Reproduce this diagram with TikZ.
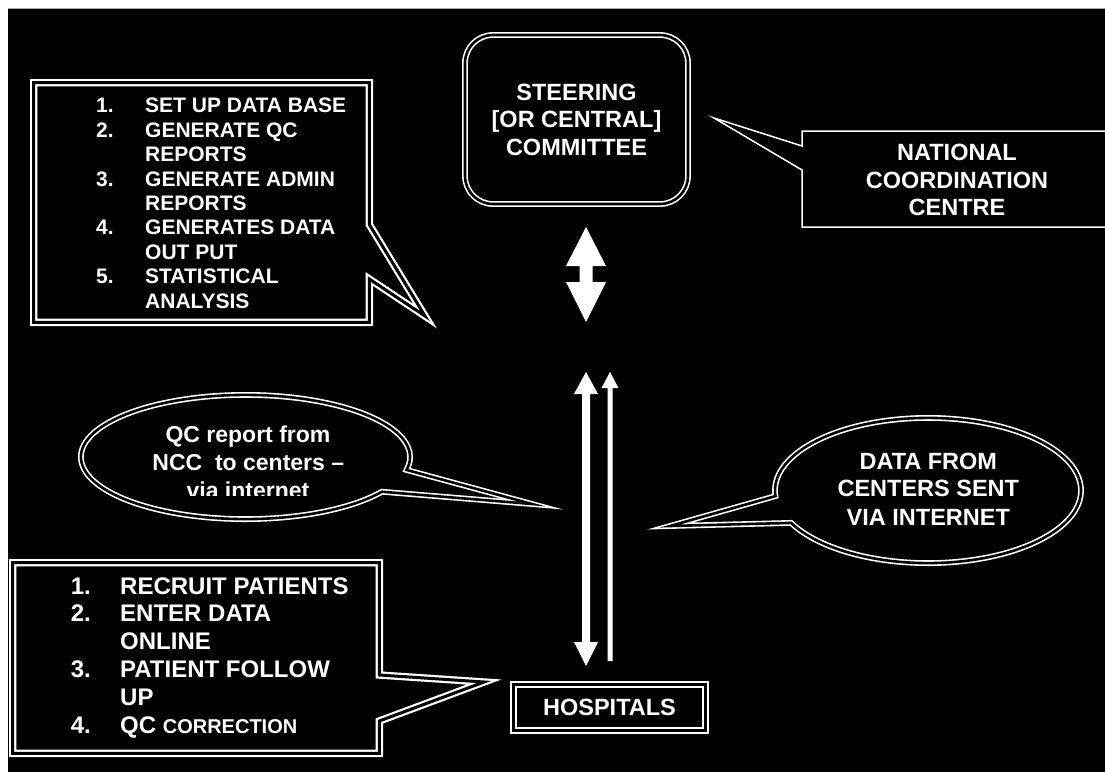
\documentclass[tikz,border=0pt]{standalone}
\usepackage{fontspec}
\setmainfont{Liberation Sans}
\begin{document}
\begin{tikzpicture}[x=1pt,y=-1pt]
\tikzset{
  dbl/.style={draw=white, line width=2.2pt, double=black, double distance=3pt, miter limit=25},
  dblthin/.style={draw=white, line width=1.6pt, double=black, double distance=2.6pt, miter limit=25},
  single/.style={draw=white, line width=1.5pt, miter limit=25},
  arrowfill/.style={fill=white},
  base/.style={text=white, inner sep=0pt},
  ta/.style={base, font=\bfseries\fontsize{21}{25}\selectfont, anchor=base west},
  tb/.style={base, font=\bfseries\fontsize{24}{28}\selectfont, anchor=base west},
  tc/.style={base, font=\bfseries\fontsize{23.5}{28}\selectfont, anchor=base},
  tq/.style={base, font=\bfseries\fontsize{23}{28}\selectfont, anchor=base}
}
\clip (0,0) rectangle (1105,772);
\fill[white] (0,0) rectangle (1105,772);
\fill[black] (8,9) rectangle (1105,772);
\draw[gray!70, line width=1pt] (8,8.5) -- (1105,8.5);

% top-left callout
\draw[dbl] (33.7,82.7) -- (369.3,82.7) -- (369.3,224.5) -- (425,316) -- (369.3,279) -- (369.3,322.3) -- (33.7,322.3) -- cycle;
\node[ta] (n1) at (96,112.7) {1.};
\node[ta] (t1) at (145,112.7) {SET UP DATA BASE};
\node[ta] (n2) at (96,137.15) {2.};
\node[ta] (t2) at (145,137.15) {GENERATE QC};
\node[ta] (t2b) at (145,161.6) {REPORTS};
\node[ta] (n3) at (96,186.05) {3.};
\node[ta] (t3) at (145,186.05) {GENERATE ADMIN};
\node[ta] (t3b) at (145,210.5) {REPORTS};
\node[ta] (n4) at (96,234.95) {4.};
\node[ta] (t4) at (145,234.95) {GENERATES DATA};
\node[ta] (t4b) at (145,259.4) {OUT PUT};
\node[ta] (n5) at (96,283.85) {5.};
\node[ta] (t5) at (145,283.85) {STATISTICAL};
\node[ta] (t5b) at (145,308.3) {ANALYSIS};

% steering committee
\draw[dblthin, rounded corners=28pt] (465,35) rectangle (688,204);
\node[tc] (s1) at (576.5,100) {STEERING};
\node[tc] (s2) at (576.5,127.5) {[OR CENTRAL]};
\node[tc] (s3) at (576.5,155) {COMMITTEE};

% national coordination centre
\draw[single] (802,170) -- (714,118) -- (802,146) -- (802,131) -- (1112,131) -- (1112,227) -- (802,227) -- cycle;
\node[tc] (c1) at (957,160.7) {NATIONAL};
\node[tc] (c2) at (957,188.3) {COORDINATION};
\node[tc] (c3) at (957,215) {CENTRE};

% double arrow
\fill[arrowfill] (586,227) -- (606,266) -- (592.5,266) -- (592.5,282) -- (606,282) -- (586,322)
  -- (566,282) -- (579.5,282) -- (579.5,266) -- (566,266) -- cycle;

% long arrows
\fill[arrowfill] (586,372) -- (598,394) -- (590,394) -- (590,642) -- (598,642) -- (586,666)
  -- (574,642) -- (582,642) -- (582,394) -- (574,394) -- cycle;
\fill[arrowfill] (610,372) -- (618.5,388) -- (612.5,388) -- (612.5,661) -- (607.5,661)
  -- (607.5,388) -- (601.5,388) -- cycle;

% QC ellipse callout
\coordinate (qcC) at (245.5,457);
\draw[dblthin] (qcC) ++(34:164.6 and 62.1) arc[start angle=34, end angle=372, x radius=164.6, y radius=62.1] -- (532,504) -- cycle;
\node[tq] (q1) at (248,442.7) {QC report from};
\node[tq] (q2) at (248.3,470.6) {NCC\ \ to centers –};
\begin{scope}
\clip (100,478) rectangle (400,495.3);
\node[tq] (q3) at (248,498.4) {via internet};
\end{scope}

% DATA ellipse callout
\coordinate (dC) at (928,490.5);
\draw[dblthin] (dC) ++(175.6:153 and 72.6) arc[start angle=175.6, end angle=513.5, x radius=153, y radius=72.6] -- (670,526) -- cycle;
\node[tc] (d1) at (928.3,469.3) {DATA FROM};
\node[tc] (d2) at (928.3,496.7) {CENTERS SENT};
\node[tc] (d3) at (928.3,525) {VIA INTERNET};

% lower-left callout
\draw[dbl] (12.7,562.7) -- (379.3,562.7) -- (379.3,675) -- (484,682) -- (379.3,721) -- (379.3,753.3) -- (12.7,753.3) -- cycle;
\node[tb] (m1) at (70.7,594) {1.};
\node[tb] (u1) at (120,594) {RECRUIT PATIENTS};
\node[tb] (m2) at (70.7,621.9) {2.};
\node[tb] (u2) at (120,621.9) {ENTER DATA};
\node[tb] (u2b) at (120,649.7) {ONLINE};
\node[tb] (m3) at (70.7,677.6) {3.};
\node[tb] (u3) at (120,677.6) {PATIENT FOLLOW};
\node[tb] (u3b) at (120,705.4) {UP};
\node[tb] (m4) at (70.7,733.3) {4.};
\node[tb] (u4) at (120,733.3) {QC {\fontsize{20}{24}\selectfont CORRECTION}};

% hospitals
\node[dbl, base, font=\bfseries\fontsize{23.5}{28}\selectfont, minimum width=191.6pt, minimum height=45.6pt] (hosp) at (609.5,707.5) {HOSPITALS};
\end{tikzpicture}
\end{document}
